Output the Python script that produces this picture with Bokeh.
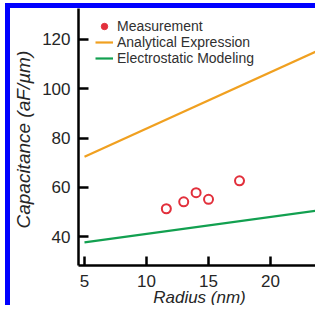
from bokeh.plotting import figure
from bokeh.models import Range1d, FixedTicker, Legend, LegendItem
from bokeh.embed import file_html
from bokeh.resources import INLINE

# Data
radius = [11.6, 13.0, 14.0, 15.0, 17.5]
capacitance = [51.4, 54.2, 57.9, 55.2, 62.7]

radius_line = [5, 25]
analytical = [72.4, 118.0]
electrostatic = [37.8, 51.5]

x_ticks = [5, 10, 15, 20, 25]
y_ticks = [40, 60, 80, 100, 120]

RED = "#e2303c"
ORANGE = "#f0a020"
GREEN = "#12a050"
FONT = "Liberation Sans"
TXT = "#262626"

p = figure(width=310, height=302,
           x_range=Range1d(4.516, 24.03), y_range=Range1d(28.45, 132.37),
           output_backend="svg", toolbar_location=None,
           min_border_left=63, min_border_right=0,
           min_border_top=0, min_border_bottom=45,
           background_fill_color="white", border_fill_color="white",
           outline_line_color=None)
p.styles = {"position": "relative", "left": "5px", "top": "3px",
            "border-left": "5px solid #0000ff", "border-top": "5px solid #0000ff"}

p.grid.visible = False

for ax, ticks, tin, stand in ((p.xaxis[0], x_ticks, 9, 9), (p.yaxis[0], y_ticks, 10, 8)):
    ax.ticker = FixedTicker(ticks=ticks)
    ax.major_tick_in = tin
    ax.major_tick_out = 0
    ax.minor_tick_line_color = None
    ax.axis_line_width = 2.5
    ax.axis_line_color = "black"
    ax.major_tick_line_width = 2.5
    ax.major_tick_line_color = "black"
    ax.major_label_text_font = FONT
    ax.major_label_text_font_size = "17px"
    ax.major_label_text_color = TXT
    ax.major_label_standoff = stand
    ax.axis_label_text_font = FONT
    ax.axis_label_text_font_style = "italic"
    ax.axis_label_text_color = TXT

p.xaxis[0].axis_label = "Radius (nm)"
p.xaxis[0].axis_label_text_font_size = "17px"
p.xaxis[0].axis_label_standoff = -2
p.yaxis[0].axis_label = "Capacitance  (aF/\u00b5m)"
p.yaxis[0].axis_label_text_font_size = "19px"
p.yaxis[0].axis_label_standoff = 5

r_an = p.line(radius_line, analytical, line_color=ORANGE, line_width=2.2)
r_el = p.line(radius_line, electrostatic, line_color=GREEN, line_width=2.2)
p.scatter(radius, capacitance, marker="circle", size=9,
          fill_color="white", line_color=RED, line_width=2)
r_leg = p.scatter(x=[float("nan")], y=[float("nan")], marker="circle", size=6,
                  fill_color=RED, line_color=RED)

legend = Legend(items=[LegendItem(label="Measurement", renderers=[r_leg]),
                       LegendItem(label="Analytical Expression", renderers=[r_an]),
                       LegendItem(label="Electrostatic Modeling", renderers=[r_el])],
                location=(17, 199),
                background_fill_alpha=0, border_line_color=None,
                padding=0, margin=0, spacing=0,
                glyph_width=18, glyph_height=16, label_height=16,
                label_standoff=4,
                label_text_font=FONT, label_text_font_size="14px",
                label_text_color="#303030")
p.add_layout(legend)

open("out.html", "w").write(file_html(p, INLINE))
